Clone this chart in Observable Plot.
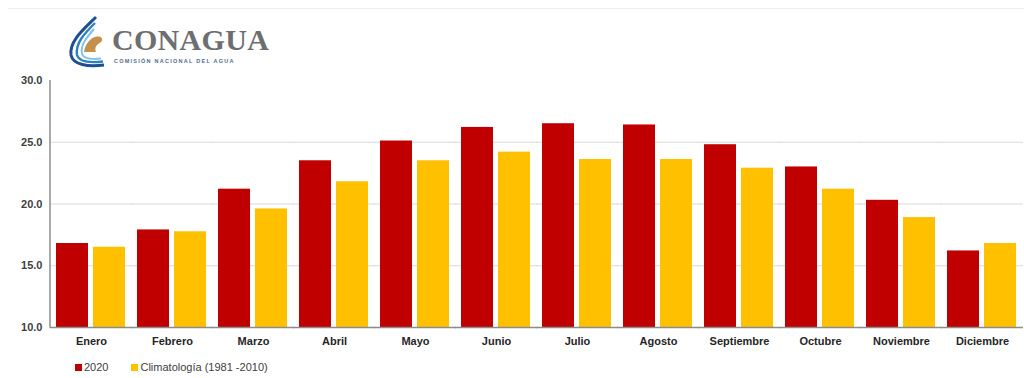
<!DOCTYPE html>
<html>
<head>
<meta charset="utf-8">
<script src="https://cdn.jsdelivr.net/npm/d3@7"></script>
<script src="https://cdn.jsdelivr.net/npm/@observablehq/plot@0.6"></script>
<style>
  html, body { margin: 0; padding: 0; background: #fff; }
  body { width: 1024px; height: 378px; position: relative; overflow: hidden; font-family: "Liberation Sans", Arial, sans-serif; }
  #topline { position: absolute; left: 8px; right: 0; top: 8px; border-top: 1px solid #ececec; }
  #logo { position: absolute; left: 66px; top: 15px; }
  #brand { position: absolute; left: 112px; top: 23px; font-family: "Liberation Serif", "DejaVu Serif", serif; font-weight: bold; font-size: 30px; color: #6d6e71; letter-spacing: 0.3px; }
  #brandsub { position: absolute; left: 114px; top: 58px; font-size: 5.5px; font-weight: bold; color: #4f6b8c; letter-spacing: 1.25px; white-space: nowrap; }
  #chart { position: absolute; left: 0; top: 0; }
  #legend { position: absolute; left: 75px; top: 361px; display: flex; align-items: center; font-size: 11px; color: #404040; }
  #legend .item { display: flex; align-items: center; margin-right: 23px; }
  #legend .sw { width: 7px; height: 7px; margin-right: 2px; }
</style>
</head>
<body>
<div id="topline"></div>
<div id="chart"></div>
<svg id="logo" width="40" height="54" viewBox="0 0 40 54">
  <path d="M30 2 C18 14, 3 26, 5 40 C7 50, 22 52, 38 50" fill="none" stroke="#1d4f91" stroke-width="3"/>
  <path d="M29 8 C19 18, 9 28, 11 40 C13 47, 24 48, 37 46.5" fill="none" stroke="#2f7fc1" stroke-width="2.4"/>
  <path d="M28 14 C21 22, 14 30, 16 39 C18 44, 26 44.5, 35 43.5" fill="none" stroke="#7cc3ea" stroke-width="2"/>
  <path d="M18 37 C19 29, 25 22, 31 21.5 C35 21, 38 24, 35 27 C31 29.5, 28 32, 30 37 Z" fill="#c4914d"/>
</svg>
<div id="brand">CONAGUA</div>
<div id="brandsub">COMISIÓN NACIONAL DEL AGUA</div>
<div id="legend"></div>
<script>
const months = ["Enero", "Febrero", "Marzo", "Abril", "Mayo", "Junio", "Julio", "Agosto", "Septiembre", "Octubre", "Noviembre", "Diciembre"];
const values2020 = [16.8, 17.9, 21.2, 23.5, 25.1, 26.2, 26.5, 26.4, 24.8, 23.0, 20.3, 16.2];
const valuesClim = [16.5, 17.75, 19.6, 21.8, 23.5, 24.2, 23.6, 23.6, 22.9, 21.2, 18.9, 16.8];
const seriesNames = ["2020", "Climatología (1981 -2010)"];
const seriesColors = ["#C00000", "#FFC000"];
const yTicks = [10, 15, 20, 25, 30];
const gridTicks = [15, 20, 25];

const data = months.flatMap((m, i) => [
  {month: m, series: seriesNames[0], value: values2020[i]},
  {month: m, series: seriesNames[1], value: valuesClim[i]}
]);

const chart = Plot.plot({
  width: 1024,
  height: 350,
  marginTop: 80,
  marginBottom: 23,
  marginLeft: 50,
  marginRight: 2,
  style: {fontFamily: "'Liberation Sans', Arial, sans-serif", background: "transparent"},
  fx: {domain: months, paddingInner: 0.136, paddingOuter: 0.068, label: null},
  x: {domain: seriesNames, paddingInner: 0.13, paddingOuter: 0, axis: null},
  y: {domain: [10, 30], label: null},
  color: {domain: seriesNames, range: seriesColors},
  marks: [
    Plot.ruleY(gridTicks, {stroke: "#d9d9d9", strokeWidth: 1, insetLeft: -6, insetRight: -6}),
    Plot.barY(data, {fx: "month", x: "series", y1: 10, y2: "value", fill: "series"}),
    Plot.ruleY([10], {stroke: "#8c8c8c", strokeWidth: 1.5, insetLeft: -6, insetRight: -6}),
    Plot.axisY({ticks: yTicks, tickFormat: d3.format(".1f"), tickSize: 0, tickPadding: 14, fontSize: 11, fontWeight: "bold", fill: "#404040", label: null}),
    Plot.axisFx({anchor: "bottom", tickSize: 0, tickPadding: 10, fontSize: 11, fontWeight: "bold", fill: "#262626", label: null})
  ]
});
document.getElementById("chart").appendChild(chart);

// left axis line, positioned from the chart's own y scale
const yScale = chart.scale("y");
d3.select(chart).append("line")
  .attr("x1", 50).attr("x2", 50)
  .attr("y1", yScale.apply(30)).attr("y2", yScale.apply(10) + 0.75)
  .attr("stroke", "#8c8c8c").attr("stroke-width", 1.5);

const legend = document.getElementById("legend");
seriesNames.forEach((name, i) => {
  const item = document.createElement("div");
  item.className = "item";
  const sw = document.createElement("div");
  sw.className = "sw";
  sw.style.background = seriesColors[i];
  const label = document.createElement("span");
  label.textContent = name;
  item.appendChild(sw);
  item.appendChild(label);
  legend.appendChild(item);
});
</script>
</body>
</html>
